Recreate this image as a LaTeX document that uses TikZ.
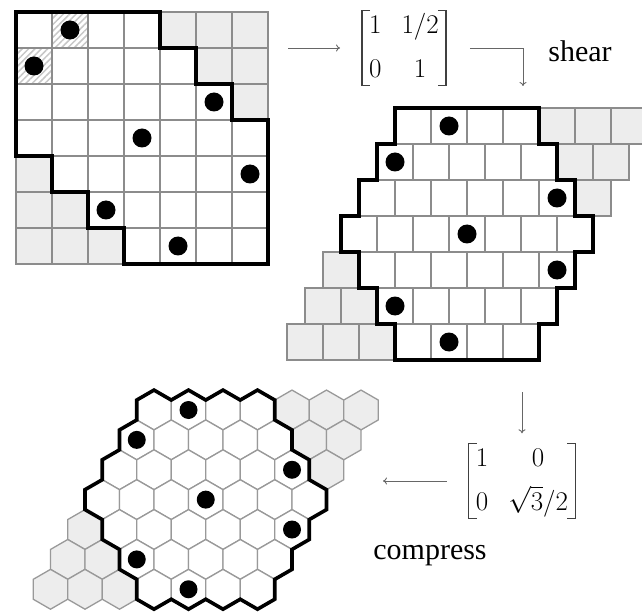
\documentclass[tikz,border=0pt]{standalone}
\usepackage{fix-cm}
\usepackage{amsmath}
\usepackage{fontspec}
\setmainfont{Liberation Serif}
\usetikzlibrary{patterns.meta,arrows.meta}

\newcommand\mapmat[1]{\setlength\arraycolsep{10pt}$\begin{array}{@{}cc@{}}#1\end{array}$}

\tikzset{
  sqcell/.style={draw=black!45,line width=1.3pt},
  hexcell/.style={draw=black!40,line width=1.3pt},
  border/.style={line width=3.6pt,line join=miter},
  stone/.style={fill=black},
  mapto/.style={draw=black!60,line width=0.9pt,-{To[length=4pt,width=7pt]}},
  lbl/.style={font=\fontsize{30}{36}\selectfont,inner sep=0pt},
  mat/.style={inner xsep=7pt,inner ysep=-2.5pt,font=\fontsize{27}{36}\selectfont},
  brack/.style={draw=black!75,line width=1.3pt}
}

\begin{document}
\begin{tikzpicture}[x=1pt,y=-1pt]
\useasboundingbox (0,0) rectangle (642,612);

% square board
\begin{scope}[shift={(16,12)},x=36pt,y=-36pt]
\foreach \r in {0,...,6}
  \foreach \c in {0,...,6}{
    \pgfmathtruncatemacro\d{abs(\c-\r)}
    \ifnum\d>3 \def\fc{black!7}\else\def\fc{white}\fi
    \filldraw[sqcell,fill=\fc] (\c,\r) rectangle +(1,1);
  }
\fill[pattern={Lines[angle=45,distance=4.5pt,line width=1.5pt]},pattern color=black!22] (1,0) rectangle +(1,1) (0,1) rectangle +(1,1);
\draw[sqcell] (1,0) rectangle +(1,1) (0,1) rectangle +(1,1);
\draw[border] (0,0) -- (4,0) -- (4,1) -- (5,1) -- (5,2) -- (6,2) -- (6,3) -- (7,3) -- (7,7) -- (3,7) -- (3,6) -- (2,6) -- (2,5) -- (1,5) -- (1,4) -- (0,4) -- cycle;
\foreach \p in {(1.5,.5),(.5,1.5),(5.5,2.5),(3.5,3.5),(6.5,4.5),(2.5,5.5),(4.5,6.5)}
  \fill[stone] \p circle (9.5pt);
\end{scope}

% sheared board
\begin{scope}[shift={(395,108)},x=36pt,y=-36pt]
\foreach \r in {0,...,6}
  \foreach \c in {0,...,6}{
    \pgfmathtruncatemacro\d{abs(\c-\r)}
    \pgfmathsetmacro\s{\c-0.5*\r}
    \ifnum\d>3 \def\fc{black!7}\else\def\fc{white}\fi
    \filldraw[sqcell,fill=\fc] (\s,\r) rectangle +(1,1);
  }
\draw[border] (0,0) -- (4,0) -- (4,1) -- (4.5,1) -- (4.5,2) -- (5,2) -- (5,3) -- (5.5,3) -- (5.5,4) -- (5,4) -- (5,5) -- (4.5,5) -- (4.5,6) -- (4,6) -- (4,7) -- (0,7) -- (0,6) -- (-0.5,6) -- (-0.5,5) -- (-1,5) -- (-1,4) -- (-1.5,4) -- (-1.5,3) -- (-1,3) -- (-1,2) -- (-0.5,2) -- (-0.5,1) -- (0,1) -- cycle;
\foreach \p in {(1.5,.5),(0,1.5),(4.5,2.5),(2,3.5),(4.5,4.5),(0,5.5),(1.5,6.5)}
  \fill[stone] \p circle (9.5pt);
\end{scope}

% hexagonal board
\begin{scope}[shift={(154,410)},x=34.5pt,y=-29.88pt]
\foreach \r in {0,...,6}
  \foreach \c in {0,...,6}{
    \pgfmathtruncatemacro\d{abs(\c-\r)}
    \pgfmathsetmacro\s{\c-0.5*\r}
    \ifnum\d>3 \def\fc{black!7}\else\def\fc{white}\fi
    \filldraw[hexcell,fill=\fc] (\s,\r) ++(0pt,19.92pt) -- ++(17.25pt,-9.96pt) -- ++(0pt,-19.92pt) -- ++(-17.25pt,-9.96pt) -- ++(-17.25pt,9.96pt) -- ++(0pt,19.92pt) -- cycle;
  }
\draw[border] (-0.5,-1/3) -- (0,-2/3) -- (0.5,-1/3) -- (1,-2/3) -- (1.5,-1/3) -- (2,-2/3) -- (2.5,-1/3) -- (3,-2/3) -- (3.5,-1/3)
  -- (3.5,1/3) -- (4,2/3) -- (4,4/3) -- (4.5,5/3) -- (4.5,7/3) -- (5,8/3) -- (5,10/3)
  -- (4.5,11/3) -- (4.5,13/3) -- (4,14/3) -- (4,16/3) -- (3.5,17/3) -- (3.5,19/3) -- (3,20/3)
  -- (2.5,19/3) -- (2,20/3) -- (1.5,19/3) -- (1,20/3) -- (0.5,19/3) -- (0,20/3) -- (-0.5,19/3)
  -- (-0.5,17/3) -- (-1,16/3) -- (-1,14/3) -- (-1.5,13/3) -- (-1.5,11/3) -- (-2,10/3) -- (-2,8/3)
  -- (-1.5,7/3) -- (-1.5,5/3) -- (-1,4/3) -- (-1,2/3) -- (-0.5,1/3) -- cycle;
\foreach \p in {(1,0),(-0.5,1),(4,2),(1.5,3),(4,4),(-0.5,5),(1,6)}
  \fill[stone] \p circle (9pt);
\end{scope}

% maps
\node[mat] (shearmat) at (404,48) {\mapmat{1 & 1/2\\[8pt] 0 & 1}};
\node[lbl] (shearlbl) at (580,51) {shear};
\node[mat] (compmat) at (522,481) {\mapmat{1 & 0\\[8pt] 0 & \sqrt{3}/2}};
\node[lbl] (complbl) at (430,556) {compress};

\foreach \m in {shearmat,compmat}{
  \draw[brack] ([xshift=8pt]\m.north west) -- (\m.north west) -- (\m.south west) -- ([xshift=8pt]\m.south west);
  \draw[brack] ([xshift=-8pt]\m.north east) -- (\m.north east) -- (\m.south east) -- ([xshift=-8pt]\m.south east);
}

\coordinate (gridout) at (288,48);
\coordinate (shearin) at (523,86);
\coordinate (compin) at (522,392);
\coordinate (hexin) at (383,481);

\draw[mapto,shorten >=22pt] (gridout) -- (shearmat);
\draw[mapto,shorten <=24pt] (shearmat.east) -| (shearin);
\draw[mapto,shorten >=10pt] (compin) -- (compmat.north);
\draw[mapto,shorten <=22pt] (compmat.west) -- (hexin);
\end{tikzpicture}
\end{document}
